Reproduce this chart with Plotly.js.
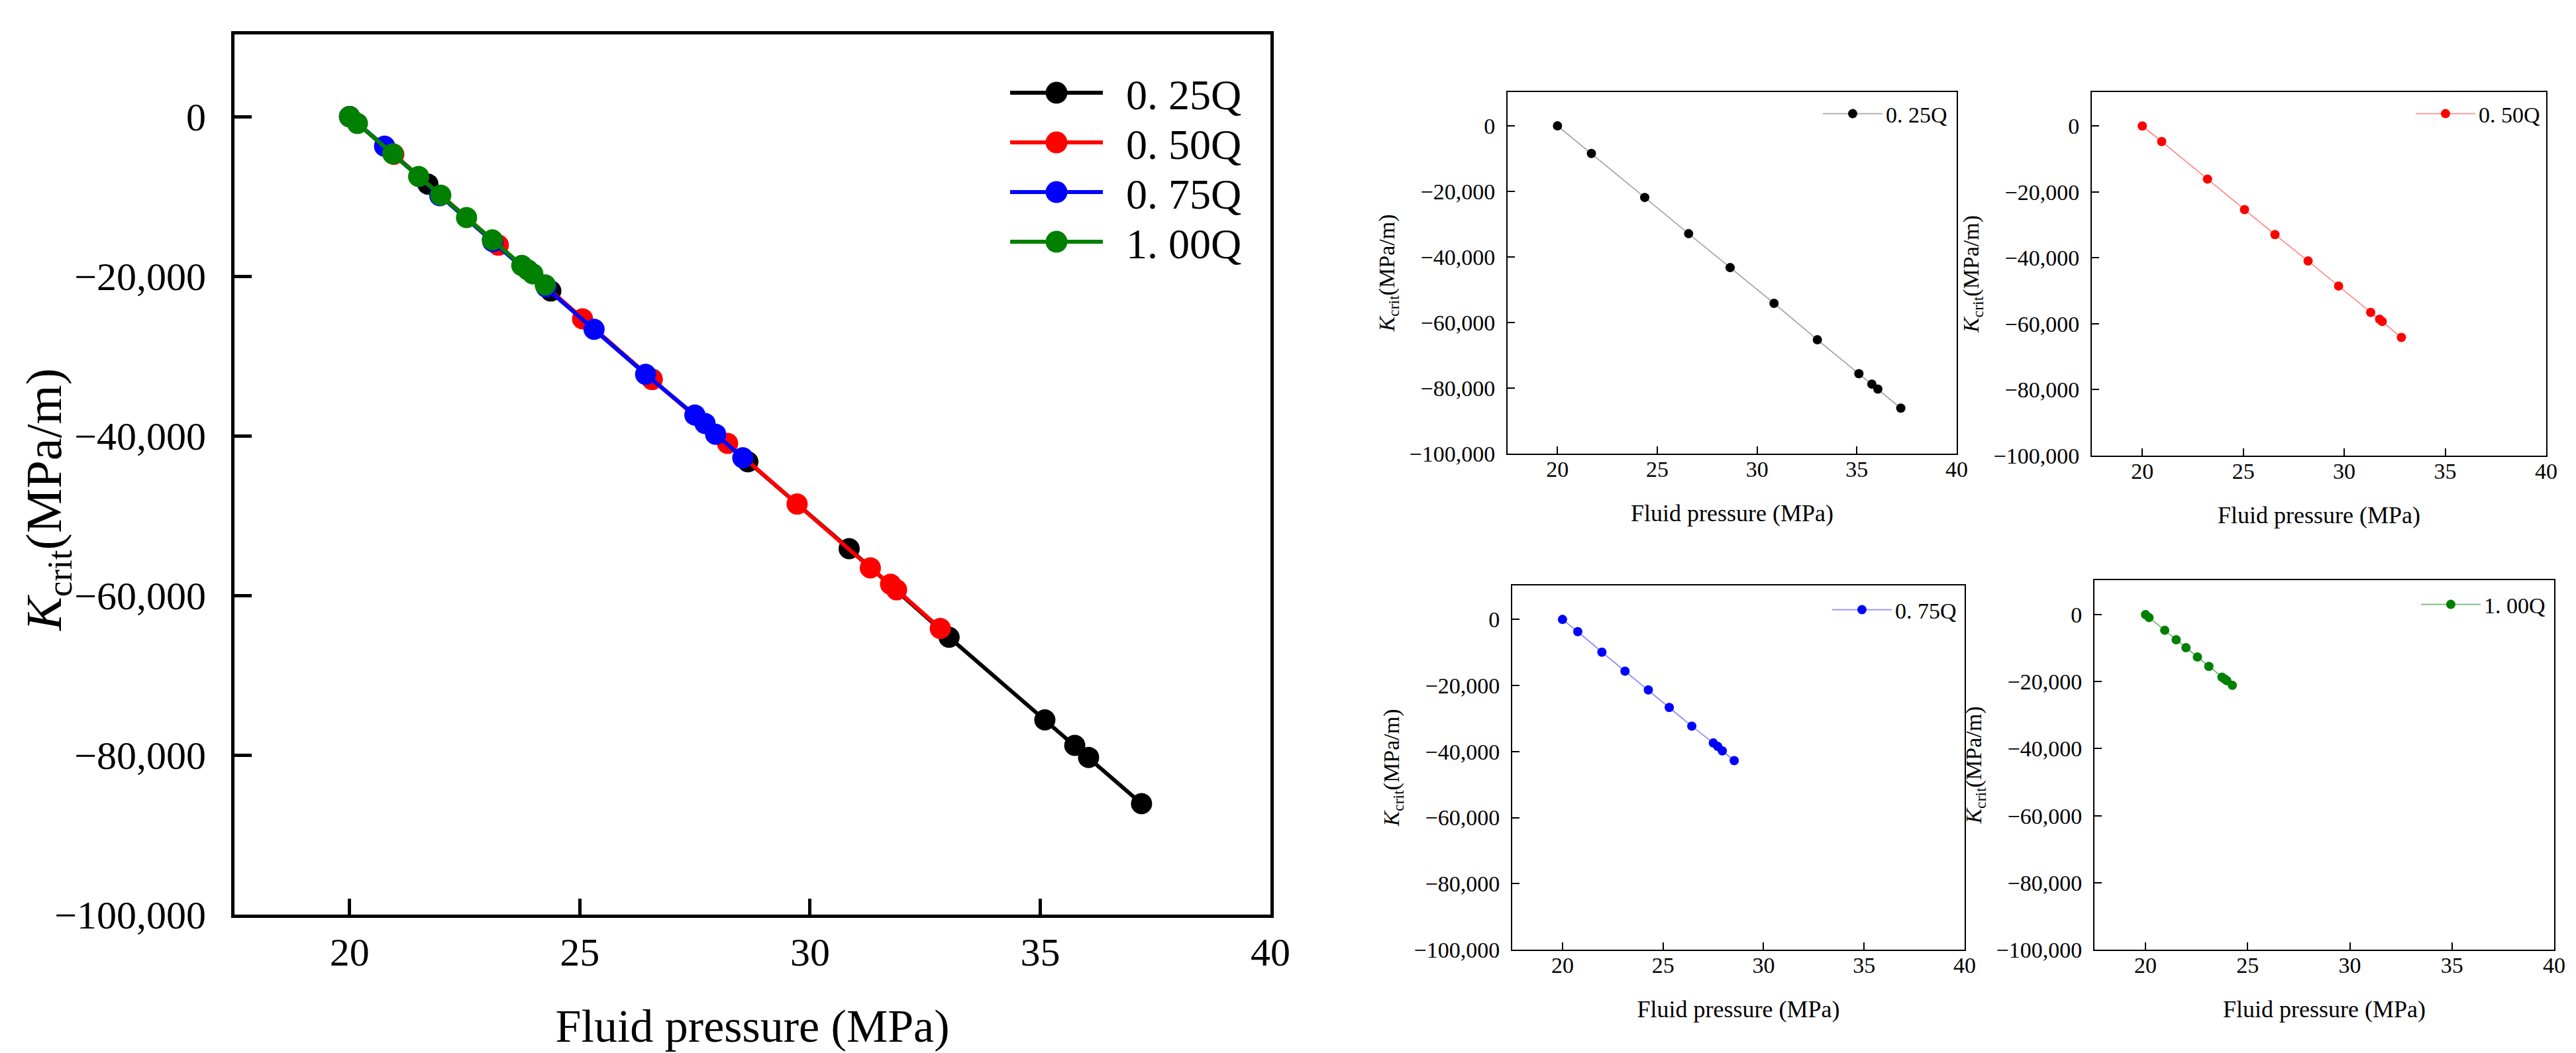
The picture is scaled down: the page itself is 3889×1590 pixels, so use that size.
<!DOCTYPE html>
<html>
<head>
    <meta charset="UTF-8">
    <script src="https://cdn.plot.ly/plotly-3.0.1.min.js"></script>
    <style>
        body { margin: 0; background: #fff; }
    </style>
</head>
<body>
    <div id="plot"></div>

    <script>
        // fluid pressure (MPa) and K_crit (MPa/m)
        const p025 = [20, 21.7, 24.37, 26.57, 28.65, 30.85, 33.02, 35.1, 35.75, 36.05, 37.2];
        const k025 = [0, -8450, -21850, -32900, -43250, -54150, -65250, -75600, -78800, -80300, -86100];

        const p050 = [20, 20.96, 23.23, 25.06, 26.57, 28.21, 29.72, 31.31, 31.75, 31.88, 32.83];
        const k050 = [0, -4720, -16100, -25350, -32950, -40950, -48550, -56550, -58600, -59300, -64150];

        const p075 = [20, 20.76, 21.96, 23.11, 24.27, 25.31, 26.43, 27.5, 27.72, 27.95, 28.54];
        const k075 = [0, -3700, -9900, -15650, -21350, -26650, -32300, -37400, -38450, -39800, -42750];

        const p100 = [20, 20.17, 20.94, 21.5, 21.98, 22.54, 23.1, 23.74, 23.87, 23.98, 24.25];
        const k100 = [0, -850, -4650, -7500, -9850, -12650, -15450, -18650, -19200, -19700, -21100];

        const names = ['0. 25Q', '0. 50Q', '0. 75Q', '1. 00Q'];
        const colors = ['#000000', '#ff0000', '#0000ff', '#008000'];
        const lightColors = ['#a8a8a8', 'rgba(255,0,0,0.45)', 'rgba(0,0,255,0.45)', 'rgba(0,128,0,0.55)'];
        const xs = [p025, p050, p075, p100];
        const ys = [k025, k050, k075, k100];

        const W = 3889, H = 1590;
        const serif = 'Liberation Serif, Times New Roman, serif';

        const data = [];
        // big combined chart
        for (let i = 0; i < 4; i++) {
            data.push({
                x: xs[i], y: ys[i], name: names[i],
                type: 'scatter', mode: 'lines+markers',
                xaxis: 'x', yaxis: 'y', legend: 'legend',
                line: { color: colors[i], width: 6 },
                marker: { color: colors[i], size: 32 }
            });
        }
        // four small charts
        for (let i = 0; i < 4; i++) {
            data.push({
                x: xs[i], y: ys[i], name: names[i],
                type: 'scatter', mode: 'lines+markers',
                xaxis: 'x' + (i + 2), yaxis: 'y' + (i + 2), legend: 'legend' + (i + 2),
                line: { color: lightColors[i], width: 1.8 },
                marker: { color: colors[i], size: 14 }
            });
        }

        function px(x) { return x / W; }
        function py(y) { return 1 - y / H; }

        const yTitle = '<i>K</i><sub>crit</sub>(MPa/m)';
        const xTitle = 'Fluid pressure (MPa)';

        function xAxis(dom, anchor, big) {
            return {
                domain: dom, anchor: anchor, range: [17.5, 40],
                tickvals: [20, 25, 30, 35, 40],
                ticks: 'inside', ticklen: big ? 24 : 11, tickwidth: big ? 5 : 2, tickcolor: '#000',
                showline: true, mirror: true, linecolor: '#000', linewidth: big ? 5 : 2,
                showgrid: false, zeroline: false,
                tickfont: { family: serif, size: big ? 60 : 34, color: '#000' },
                ticklabelstandoff: big ? 0 : -8,
                title: { text: xTitle, font: { family: serif, size: big ? 70 : 36, color: '#000' }, standoff: big ? 55 : 36 }
            };
        }
        function yAxis(dom, anchor, big) {
            return {
                domain: dom, anchor: anchor, range: [-100000, 10300],
                tickvals: [0, -20000, -40000, -60000, -80000, -100000],
                tickformat: ',d',
                ticks: 'inside', ticklen: big ? 26 : 11, tickwidth: big ? 5 : 2, tickcolor: '#000',
                showline: true, mirror: true, linecolor: '#000', linewidth: big ? 5 : 2,
                showgrid: false, zeroline: false,
                tickfont: { family: serif, size: big ? 60 : 34, color: '#000' },
                ticklabelstandoff: big ? 26 : 10,
                // the big chart's y title is drawn as an annotation so it can sit closer in
                title: big ? { text: '' } : { text: yTitle, font: { family: serif, size: 34, color: '#000' }, standoff: 12 }
            };
        }
        function smallLegend(xr, ytop) {
            return {
                x: px(xr), xanchor: 'right', y: py(ytop), yanchor: 'top',
                bgcolor: 'rgba(0,0,0,0)', itemwidth: 90,
                font: { family: serif, size: 34, color: '#000' }
            };
        }

        const layout = {
            width: W, height: H,
            margin: { l: 0, r: 0, t: 0, b: 0 },
            paper_bgcolor: '#fff', plot_bgcolor: '#fff',
            font: { family: serif, color: '#000' },

            xaxis: xAxis([px(354), px(1918)], 'y', true),
            yaxis: yAxis([py(1381), py(52)], 'x', true),

            xaxis2: xAxis([px(2276), px(2954)], 'y2', false),
            yaxis2: yAxis([py(685), py(139)], 'x2', false),
            xaxis3: xAxis([px(3158), px(3844)], 'y3', false),
            yaxis3: yAxis([py(688), py(139)], 'x3', false),
            xaxis4: xAxis([px(2283), px(2966)], 'y4', false),
            yaxis4: yAxis([py(1434), py(884)], 'x4', false),
            xaxis5: xAxis([px(3162), px(3856)], 'y5', false),
            yaxis5: yAxis([py(1434), py(876)], 'x5', false),

            annotations: [{
                text: yTitle, textangle: -90,
                xref: 'paper', yref: 'paper', x: px(72), y: py(755),
                xanchor: 'center', yanchor: 'middle', showarrow: false,
                font: { family: serif, size: 76, color: '#000' }
            }],

            legend: {
                x: px(1850), xanchor: 'right', y: py(92), yanchor: 'top',
                bgcolor: 'rgba(0,0,0,0)', itemwidth: 140,
                font: { family: serif, size: 64, color: '#000' }
            },
            legend2: smallLegend(2945, 143),
            legend3: smallLegend(3840, 143),
            legend4: smallLegend(2959, 892),
            legend5: smallLegend(3848, 884)
        };

        // spread legend items: shift text right by gap, rows every step px
        function tidyLegend(root, items, gap, step) {
            root.querySelectorAll('[clip-path]').forEach(function (n) { n.removeAttribute('clip-path'); });
            let y0 = null;
            items.forEach(function (g, i) {
                const m = /translate\(\s*([-\d.e]+)[ ,]+([-\d.e]+)\s*\)/.exec(g.getAttribute('transform') || '');
                if (m) {
                    if (y0 === null) y0 = +m[2];
                    g.setAttribute('transform', 'translate(' + m[1] + ',' + (y0 + i * step) + ')');
                }
                const t = g.querySelector('text.legendtext');
                if (t) t.setAttribute('x', (+t.getAttribute('x') || 0) + gap);
            });
        }

        Plotly.newPlot('plot', data, layout, { staticPlot: true }).then(function (gd) {
            // the big legend: spread rows and enlarge its symbols (legend markers are capped at 16px)
            const main = gd.querySelector('g.legend');
            if (!main) return;
            const r = 16.5;
            const circle = 'M' + r + ',0A' + r + ',' + r + ' 0 1,1 0,-' + r + 'A' + r + ',' + r + ' 0 0,1 ' + r + ',0Z';
            main.querySelectorAll('.legendpoints path.scatterpts').forEach(function (p) { p.setAttribute('d', circle); });
            tidyLegend(main, main.querySelectorAll('g.traces'), 30, 75);
        });
    </script>
</body>
</html>
